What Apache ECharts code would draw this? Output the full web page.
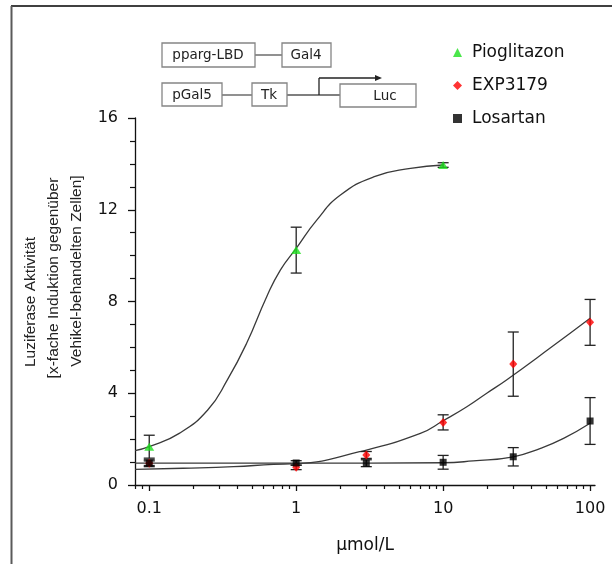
<!DOCTYPE html>
<html>
<head>
<meta charset="utf-8">
<script src="https://cdn.jsdelivr.net/npm/echarts@6/dist/echarts.min.js"></script>
<style>
  html, body { margin: 0; padding: 0; background: #fff; }
  #chart { width: 612px; height: 564px; }
</style>
</head>
<body>
<div id="chart"></div>
<script>
// measured points (µmol/L, fold induction) with error
const pioDose = [0.1, 1, 10];
const pioMean = [1.67, 10.24, 13.95];
const pioErr = [0.5, 1.0, 0.1];

const expDose = [0.1, 1, 3, 10, 30, 100];
const expMean = [0.95, 0.77, 1.31, 2.73, 5.27, 7.09];
const expErr = [0.15, 0.1, 0.15, 0.33, 1.4, 1.0];

const losDose = [0.1, 1, 3, 10, 30, 100];
const losMean = [0.95, 0.96, 0.95, 0.99, 1.23, 2.79];
const losErr = [0.1, 0.1, 0.15, 0.3, 0.4, 1.02];

// fitted curves
const pioFitX = [0.08, 0.1, 0.16, 0.25, 0.34, 0.46, 0.63, 0.78, 1.0, 1.38, 2.0, 3.4, 6.0, 10];
const pioFitY = [1.5, 1.67, 2.25, 3.27, 4.58, 6.18, 8.21, 9.37, 10.32, 11.55, 12.64, 13.44, 13.8, 13.95];

const expFitX = [0.08, 0.17, 0.375, 0.7, 1, 2.7, 7, 10, 14.5, 19.8, 27, 53.5, 100];
const expFitY = [0.68, 0.73, 0.8, 0.9, 0.93, 1.45, 2.25, 2.8, 3.41, 4.0, 4.58, 5.97, 7.27];

const losFitX = [0.08, 1, 10, 16, 30, 46, 66, 100];
const losFitY = [0.95, 0.95, 0.97, 1.05, 1.23, 1.6, 2.03, 2.69];

// axis ticks
const xMajorTicks = [0.1, 1, 10, 100];
const xMinorTicks = [0.08, 0.09, 0.2, 0.3, 0.4, 0.5, 0.6, 0.7, 0.8, 0.9,
  2, 3, 4, 5, 6, 7, 8, 9, 20, 30, 40, 50, 60, 70, 80, 90];

const myChart = echarts.init(document.getElementById('chart'));

function pairs(xs, ys) {
  return xs.map((x, i) => [x, ys[i]]);
}

function fitSeries(xs, ys) {
  return {
    type: 'line',
    data: pairs(xs, ys),
    smooth: 0.5,
    showSymbol: false,
    silent: true,
    z: 2,
    lineStyle: { color: '#3a3a3a', width: 1.3 }
  };
}

function errorSeries(dose, mean, err) {
  return {
    type: 'custom',
    z: 3,
    silent: true,
    renderItem: function (params, api) {
      const top = api.coord([api.value(0), api.value(2)]);
      const bot = api.coord([api.value(0), api.value(1)]);
      const w = 5.5;
      const st = { stroke: '#222', lineWidth: 1.3 };
      return {
        type: 'group',
        children: [
          { type: 'line', shape: { x1: top[0], y1: top[1], x2: bot[0], y2: bot[1] }, style: st },
          { type: 'line', shape: { x1: top[0] - w, y1: top[1], x2: top[0] + w, y2: top[1] }, style: st },
          { type: 'line', shape: { x1: bot[0] - w, y1: bot[1], x2: bot[0] + w, y2: bot[1] }, style: st }
        ]
      };
    },
    encode: { x: 0, y: [1, 2] },
    data: dose.map((d, i) => [d, mean[i] - err[i], mean[i] + err[i]])
  };
}

const labelFont = 'DejaVu Sans';
const boxStyle = { fill: '#fff', stroke: '#858585', lineWidth: 1.3 };
const wireStyle = { stroke: '#555', lineWidth: 1.3 };
const boxText = { fontFamily: labelFont, fontSize: 13.5, fill: '#222', align: 'center', verticalAlign: 'middle' };
const yNameText = { fontFamily: 'Liberation Sans', fontSize: 15.5, fill: '#222', align: 'center', verticalAlign: 'middle' };

const option = {
  backgroundColor: '#fff',
  animation: false,
  grid: { left: 135, right: 17, top: 118, bottom: 79 },
  legend: {
    orient: 'vertical',
    left: 448,
    top: 39,
    itemWidth: 9,
    itemHeight: 9,
    itemGap: 16,
    selectedMode: false,
    textStyle: { fontFamily: labelFont, fontSize: 17, color: '#111', padding: [0, 0, 0, 5] },
    data: [
      { name: 'Pioglitazon', icon: 'triangle' },
      { name: 'EXP3179', icon: 'diamond' },
      { name: 'Losartan', icon: 'rect' }
    ]
  },
  xAxis: [
    {
      type: 'log',
      logBase: 10,
      min: 0.08,
      max: 108,
      position: 'bottom',
      name: 'µmol/L',
      nameLocation: 'middle',
      nameGap: 52,
      nameTextStyle: { fontFamily: labelFont, fontSize: 17, color: '#111' },
      axisLine: { lineStyle: { color: '#111', width: 1.3 } },
      axisTick: { customValues: xMajorTicks, length: 6, lineStyle: { color: '#111', width: 1.3 } },
      axisLabel: {
        customValues: xMajorTicks,
        margin: 16,
        fontFamily: labelFont,
        fontSize: 16,
        color: '#111',
        formatter: function (v) { return String(v); }
      },
      splitLine: { show: false },
      minorTick: { show: false }
    },
    {
      type: 'log',
      logBase: 10,
      min: 0.08,
      max: 108,
      position: 'bottom',
      axisLine: { show: false },
      axisTick: { customValues: xMinorTicks, length: 4, lineStyle: { color: '#111', width: 1.2 } },
      axisLabel: { show: false },
      splitLine: { show: false }
    }
  ],
  yAxis: {
    type: 'value',
    min: 0,
    max: 16,
    interval: 4,
    axisLine: { show: true, lineStyle: { color: '#111', width: 1.3 } },
    axisTick: { show: true, length: 7, lineStyle: { color: '#111', width: 1.3 } },
    minorTick: { show: true, splitNumber: 4, length: 5, lineStyle: { color: '#111', width: 1.2 } },
    axisLabel: { margin: 17, fontFamily: labelFont, fontSize: 16, color: '#111' },
    splitLine: { show: false }
  },
  graphic: [
    // frame
    { type: 'line', shape: { x1: 11, y1: 6, x2: 612, y2: 6 }, style: { stroke: '#000', lineWidth: 1.5 } },
    { type: 'line', shape: { x1: 11.5, y1: 6, x2: 11.5, y2: 564 }, style: { stroke: '#5a5a5a', lineWidth: 2 } },
    // construct diagram
    { type: 'line', shape: { x1: 255, y1: 55, x2: 282, y2: 55 }, style: wireStyle },
    { type: 'line', shape: { x1: 222, y1: 95, x2: 252, y2: 95 }, style: wireStyle },
    { type: 'line', shape: { x1: 287, y1: 95, x2: 340, y2: 95 }, style: wireStyle },
    { type: 'line', shape: { x1: 319, y1: 95, x2: 319, y2: 78 }, style: { stroke: '#222', lineWidth: 1.3 } },
    { type: 'line', shape: { x1: 319, y1: 78, x2: 376, y2: 78 }, style: { stroke: '#222', lineWidth: 1.3 } },
    { type: 'polygon', shape: { points: [[375, 75], [382, 78], [375, 81]] }, style: { fill: '#222' } },
    { type: 'rect', shape: { x: 162, y: 43, width: 93, height: 24 }, style: boxStyle },
    { type: 'rect', shape: { x: 282, y: 43, width: 49, height: 24 }, style: boxStyle },
    { type: 'rect', shape: { x: 162, y: 83, width: 60, height: 23 }, style: boxStyle },
    { type: 'rect', shape: { x: 252, y: 83, width: 35, height: 23 }, style: boxStyle },
    { type: 'rect', shape: { x: 340, y: 84, width: 76, height: 23 }, style: boxStyle },
    { type: 'text', x: 208, y: 55, style: Object.assign({ text: 'pparg-LBD' }, boxText) },
    { type: 'text', x: 306, y: 55, style: Object.assign({ text: 'Gal4' }, boxText) },
    { type: 'text', x: 192, y: 95, style: Object.assign({ text: 'pGal5' }, boxText) },
    { type: 'text', x: 269, y: 95, style: Object.assign({ text: 'Tk' }, boxText) },
    { type: 'text', x: 385, y: 96, style: Object.assign({ text: 'Luc' }, boxText) },
    // y axis title, three lines
    { type: 'text', x: 31, y: 302, rotation: Math.PI / 2, style: Object.assign({ text: 'Luziferase Aktivität' }, yNameText) },
    { type: 'text', x: 54, y: 278, rotation: Math.PI / 2, style: Object.assign({ text: '[x-fache Induktion gegenüber' }, yNameText) },
    { type: 'text', x: 76.5, y: 271, rotation: Math.PI / 2, style: Object.assign({ text: 'Vehikel-behandelten Zellen]' }, yNameText) }
  ],
  series: [
    fitSeries(pioFitX, pioFitY),
    fitSeries(expFitX, expFitY),
    fitSeries(losFitX, losFitY),
    errorSeries(pioDose, pioMean, pioErr),
    errorSeries(expDose, expMean, expErr),
    errorSeries(losDose, losMean, losErr),
    {
      name: 'EXP3179',
      type: 'scatter',
      symbol: 'diamond',
      symbolSize: [8, 9],
      z: 4,
      itemStyle: { color: '#ff0000' },
      data: pairs(expDose, expMean)
    },
    {
      name: 'Losartan',
      type: 'scatter',
      symbol: 'rect',
      symbolSize: 7,
      z: 5,
      itemStyle: { color: '#000' },
      data: pairs(losDose, losMean)
    },
    {
      name: 'Pioglitazon',
      type: 'scatter',
      symbol: 'triangle',
      symbolSize: [10, 8],
      z: 6,
      itemStyle: { color: '#1ee01e' },
      data: pairs(pioDose, pioMean)
    }
  ]
};

myChart.setOption(option);
</script>
</body>
</html>
